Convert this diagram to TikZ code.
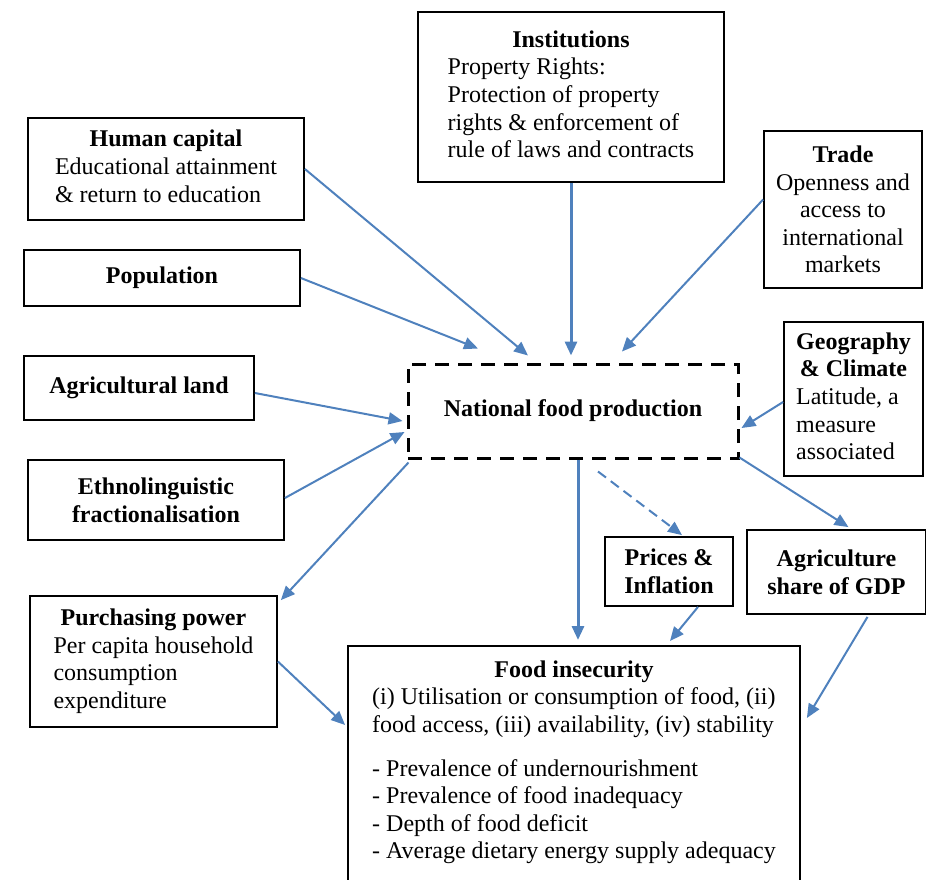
\documentclass[tikz,border=0pt]{standalone}
\usepackage{fontspec}
\setmainfont{Liberation Serif}
\usetikzlibrary{
  arrows.meta,
  calc
}
\definecolor{linkblue}{HTML}{4F81BD}
% A bold, centred first row for the boxes whose body is set flush left.
\newcommand{\boxhead}[1]{\multicolumn{1}{@{}c@{}}{\textbf{#1}}}

\begin{document}
\begin{tikzpicture}[x=1pt, y=-1pt,
  >={Triangle[length=14pt,width=12pt]},
  box/.style={draw, line width=1.8pt, inner sep=0pt, align=center,
    font=\fontsize{24}{27.6}\selectfont},
  link/.style={->, draw=linkblue, line width=2pt},
  mainlink/.style={link, line width=3pt}]
  \useasboundingbox (0,0) rectangle (926,879);

  % The dashed box in the middle. ``nfp'' is how it is referred to
  % by the arrows below.
  \node [box, dash pattern=on 14pt off 9pt, line width=3pt,
    minimum width=330pt, minimum height=94pt] (nfp) at (573,411)
    {\textbf{National food production}};

  % The boxes on the left, top to bottom.
  \node [box, minimum width=276pt, minimum height=102pt] (human) at (166,169)
    {\begin{tabular}{@{}l@{}}\boxhead{Human capital}\\
      Educational attainment\\ \& return to education\end{tabular}};
  \node [box, minimum width=276pt, minimum height=56pt] (population) at (162,278)
    {\textbf{Population}};
  \node [box, minimum width=230pt, minimum height=64pt] (agland) at (139,388)
    {\textbf{Agricultural land}};
  \node [box, minimum width=256pt, minimum height=80pt] (ethno) at (156,500)
    {\textbf{Ethnolinguistic}\\ \textbf{fractionalisation}};
  \node [box, minimum width=247pt, minimum height=131pt] (purchasing) at (153.5,661.5)
    {\begin{tabular}{@{}l@{}}\boxhead{Purchasing power}\\
      Per capita household\\ consumption\\ expenditure\end{tabular}};

  % The boxes along the top and on the right.
  \node [box, minimum width=306pt, minimum height=170pt] (institutions) at (571,97)
    {\begin{tabular}{@{}l@{}}\boxhead{Institutions}\\ Property Rights:\\
      Protection of property\\ rights \& enforcement of\\
      rule of laws and contracts\end{tabular}};
  \node [box, minimum width=158pt, minimum height=157pt] (trade) at (843,209.5)
    {\textbf{Trade}\\ Openness and\\ access to\\ international\\ markets};
  \node [box, minimum width=139pt, minimum height=154pt] (geography) at (853.5,399)
    {\begin{tabular}{@{}l@{}}\boxhead{Geography}\\ \boxhead{\& Climate}\\
      Latitude, a\\ measure\\ associated\end{tabular}};
  \node [box, minimum width=128pt, minimum height=69pt] (prices) at (669,571.5)
    {\textbf{Prices \&}\\ \textbf{Inflation}};
  \node [box, minimum width=179pt, minimum height=84pt] (agshare) at (836.5,572)
    {\textbf{Agriculture}\\ \textbf{share of GDP}};

  % The outcome box; it runs off the bottom of the page.
  \node [box, anchor=north, minimum width=452pt, inner ysep=12pt] (insecurity) at (574,645)
    {\begin{tabular}{@{}l@{}}\boxhead{Food insecurity}\\
      (i) Utilisation or consumption of food, (ii)\\
      food access, (iii) availability, (iv) stability\\[16pt]
      - Prevalence of undernourishment\\
      - Prevalence of food inadequacy\\
      - Depth of food deficit\\
      - Average dietary energy supply adequacy\\[24pt]\end{tabular}};

  % Arrows _into_ national food production.
  \draw [link] (human.east) -- ($(nfp.north)+(-45,-7)$);
  \draw [link] (population.east) -- ($(nfp.north)+(-95,-14)$);
  \draw [mainlink] (institutions.south) -- ($(nfp.north)+(-2,-7)$);
  \draw [link] ($(trade.west)+(0,-10)$) -- ($(nfp.north)+(49,-11)$);
  \draw [link] ($(agland.east)+(0,5)$) -- ($(nfp.west)+(-4,10)$);
  \draw [link] ($(ethno.east)+(0,-2)$) -- ($(nfp.west)+(-2,21)$);
  \draw [link] ($(geography.west)+(0,3)$) -- ($(nfp.east)+(2,17)$);

  % Arrows _out of_ national food production.
  \draw [link] ($(nfp.south west)+(2,3)$) -- ($(purchasing.north east)+(3,5)$);
  \draw [mainlink] ($(nfp.south)+(5,0)$) -- ($(insecurity.north)+(4,-5)$);
  \draw [link, dash pattern=on 10pt off 6pt] ($(nfp.south)+(25,12)$) -- ($(prices.north)+(13,-1)$);
  \draw [link] ($(nfp.south east)+(0,-2)$) -- ($(agshare.north)+(12,-2)$);

  % Arrows _into_ food insecurity.
  \draw [link] ($(prices.south)+(29,0)$) -- ($(insecurity.north)+(96,-4)$);
  \draw [link] ($(agshare.south)+(31,2)$) -- ($(insecurity.north east)+(6,73)$);
  \draw [link] (purchasing.east) -- ($(insecurity.north west)+(-2,80)$);
\end{tikzpicture}
\end{document}
